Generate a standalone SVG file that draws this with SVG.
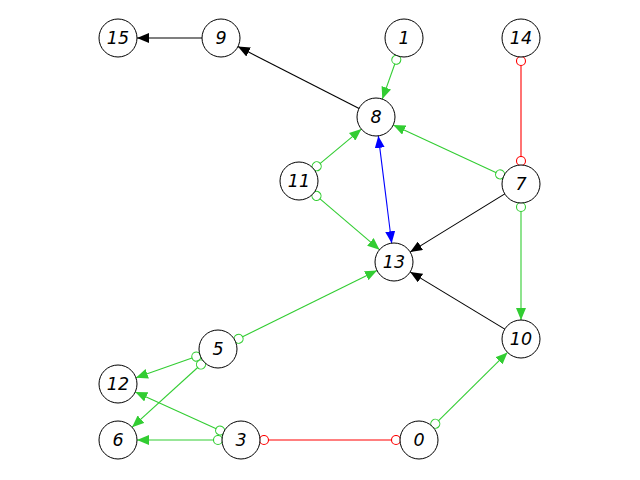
<svg xmlns="http://www.w3.org/2000/svg" width="640" height="480" viewBox="0 0 640 480">
<style>
.n circle{fill:#fff;stroke:#000;stroke-width:1}
.n text{font-family:"DejaVu Sans",sans-serif;font-style:italic;font-size:17.5px;text-anchor:middle;dominant-baseline:central;fill:#000}
.k{stroke:#000;stroke-width:1.1;fill:none}
.g{stroke:#32cd32;stroke-width:1.1;fill:none}
.r{stroke:#ff0000;stroke-width:1.1;fill:none}
.b{stroke:#0000ff;stroke-width:1.1;fill:none}
</style>
<defs>
<marker id="ak" markerUnits="userSpaceOnUse" markerWidth="12" markerHeight="10" refX="12" refY="5" orient="auto"><path d="M0,0L12,5L0,10z" fill="#000"/></marker>
<marker id="ag" markerUnits="userSpaceOnUse" markerWidth="12" markerHeight="10" refX="12" refY="5" orient="auto"><path d="M0,0L12,5L0,10z" fill="#32cd32"/></marker>
<marker id="ab" markerUnits="userSpaceOnUse" markerWidth="12" markerHeight="10" refX="12" refY="5" orient="auto-start-reverse"><path d="M0,0L12,5L0,10z" fill="#0000ff"/></marker>
<marker id="cg" markerUnits="userSpaceOnUse" markerWidth="11" markerHeight="11" refX="5.5" refY="5.5" orient="auto"><circle cx="5.5" cy="5.5" r="4.5" fill="#fff" stroke="#32cd32" stroke-width="1.1"/></marker>
<marker id="cr" markerUnits="userSpaceOnUse" markerWidth="11" markerHeight="11" refX="5.5" refY="5.5" orient="auto"><circle cx="5.5" cy="5.5" r="4.5" fill="#fff" stroke="#ff0000" stroke-width="1.1"/></marker>
</defs>
<g id="edges">
<line class="k" x1="202" y1="38" x2="137" y2="38" marker-end="url(#ak)"/>
<line class="k" x1="359.1" y1="108.4" x2="237.9" y2="46.6" marker-end="url(#ak)"/>
<line class="g" x1="396.3" y1="59.7" x2="382.3" y2="99.1" marker-start="url(#cg)" marker-end="url(#ag)"/>
<line class="r" x1="521" y1="61" x2="521" y2="161" marker-start="url(#cr)" marker-end="url(#cr)"/>
<line class="g" x1="500.1" y1="174.4" x2="393.3" y2="125" marker-start="url(#cg)" marker-end="url(#ag)"/>
<line class="g" x1="316.7" y1="166.3" x2="361.4" y2="129.1" marker-start="url(#cg)" marker-end="url(#ag)"/>
<line class="g" x1="316.5" y1="195.9" x2="379.5" y2="249.7" marker-start="url(#cg)" marker-end="url(#ag)"/>
<line class="b" x1="378.3" y1="135.9" x2="391.7" y2="243.2" marker-start="url(#ab)" marker-end="url(#ab)"/>
<line class="k" x1="504.8" y1="193.9" x2="410.2" y2="252.1" marker-end="url(#ak)"/>
<line class="g" x1="521" y1="207" x2="521" y2="320" marker-start="url(#cg)" marker-end="url(#ag)"/>
<line class="k" x1="504.8" y1="329.1" x2="410.2" y2="271.9" marker-end="url(#ak)"/>
<line class="g" x1="238.6" y1="338.8" x2="377" y2="270.4" marker-start="url(#cg)" marker-end="url(#ag)"/>
<line class="g" x1="196.3" y1="356.6" x2="135.9" y2="377.7" marker-start="url(#cg)" marker-end="url(#ag)"/>
<line class="g" x1="201" y1="364.5" x2="132.1" y2="427.2" marker-start="url(#cg)" marker-end="url(#ag)"/>
<line class="g" x1="220.1" y1="430.5" x2="135.3" y2="391.9" marker-start="url(#cg)" marker-end="url(#ag)"/>
<line class="g" x1="218" y1="440" x2="137" y2="440" marker-start="url(#cg)" marker-end="url(#ag)"/>
<line class="r" x1="264" y1="440" x2="396" y2="440" marker-start="url(#cr)" marker-end="url(#cr)"/>
<line class="g" x1="435.3" y1="423.8" x2="507.5" y2="352.4" marker-start="url(#cg)" marker-end="url(#ag)"/>
</g>
<g id="n15" class="n"><circle cx="118" cy="38" r="19"/><text x="118" y="38">15</text></g>
<g id="n9" class="n"><circle cx="221" cy="38" r="19"/><text x="221" y="38">9</text></g>
<g id="n1" class="n"><circle cx="404" cy="38" r="19"/><text x="404" y="38">1</text></g>
<g id="n14" class="n"><circle cx="521" cy="38" r="19"/><text x="521" y="38">14</text></g>
<g id="n8" class="n"><circle cx="376" cy="117" r="19"/><text x="376" y="117">8</text></g>
<g id="n11" class="n"><circle cx="299" cy="181" r="19"/><text x="299" y="181">11</text></g>
<g id="n7" class="n"><circle cx="521" cy="184" r="19"/><text x="521" y="184">7</text></g>
<g id="n13" class="n"><circle cx="394" cy="262" r="19"/><text x="394" y="262">13</text></g>
<g id="n5" class="n"><circle cx="218" cy="349" r="19"/><text x="218" y="349">5</text></g>
<g id="n10" class="n"><circle cx="521" cy="339" r="19"/><text x="521" y="339">10</text></g>
<g id="n12" class="n"><circle cx="118" cy="384" r="19"/><text x="118" y="384">12</text></g>
<g id="n6" class="n"><circle cx="118" cy="440" r="19"/><text x="118" y="440">6</text></g>
<g id="n3" class="n"><circle cx="241" cy="440" r="19"/><text x="241" y="440">3</text></g>
<g id="n0" class="n"><circle cx="419" cy="440" r="19"/><text x="419" y="440">0</text></g>
</svg>
